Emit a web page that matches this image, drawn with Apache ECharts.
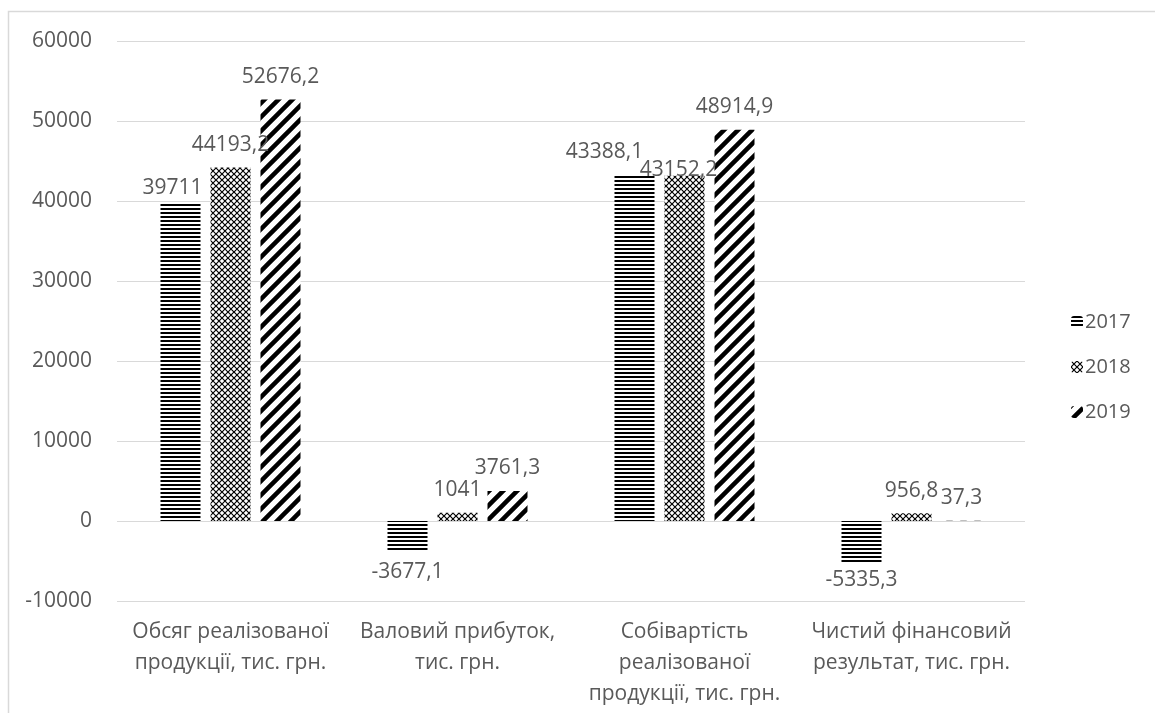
<!DOCTYPE html>
<html>
<head>
<meta charset="utf-8">
<script src="https://cdn.jsdelivr.net/npm/echarts@6/dist/echarts.min.js"></script>
<style>
  html, body { margin: 0; padding: 0; background: #fff; }
  #chart { width: 1155px; height: 713px; }
</style>
</head>
<body>
<div id="chart"></div>
<script>
// Показники діяльності підприємства, тис. грн.
const categories = [
  'Обсяг реалізованої\nпродукції, тис. грн.',
  'Валовий прибуток,\nтис. грн.',
  'Собівартість\nреалізованої\nпродукції, тис. грн.',
  'Чистий фінансовий\nрезультат, тис. грн.'
];
const years = ['2017', '2018', '2019'];
const values2017 = [39711, -3677.1, 43388.1, -5335.3];
const values2018 = [44193.2, 1041, 43152.2, 956.8];
const values2019 = [52676.2, 3761.3, 48914.9, 37.3];
const yTicks = { min: -10000, max: 60000, step: 10000 };

const FONT = '"Open Sans", "Noto Sans", sans-serif';
const GREY = '#595959';

// Black-and-white fill patterns for the bars
function makeTile(w, h, draw) {
  const c = document.createElement('canvas');
  c.width = w; c.height = h;
  const g = c.getContext('2d');
  g.fillStyle = '#fff';
  g.fillRect(0, 0, w, h);
  g.fillStyle = '#000';
  g.strokeStyle = '#000';
  draw(g, w, h);
  return { image: c, repeat: 'repeat' };
}
const hLines = makeTile(4, 4, (g) => { g.fillRect(0, 0, 4, 2); });
const crossHatch = makeTile(6, 6, (g, w, h) => {
  g.lineWidth = 1.2;
  g.beginPath();
  g.moveTo(0, 0); g.lineTo(w, h);
  g.moveTo(w, 0); g.lineTo(0, h);
  g.stroke();
});
const diagonal = makeTile(14, 14, (g, s) => {
  g.lineWidth = 4.5;
  g.lineCap = 'square';
  g.beginPath();
  g.moveTo(0, s); g.lineTo(s, 0);
  g.moveTo(-s / 2, s / 2); g.lineTo(s / 2, -s / 2);
  g.moveTo(s / 2, s * 1.5); g.lineTo(s * 1.5, s / 2);
  g.stroke();
});

// Hand-placed label shifts where neighbouring labels would collide
const labelShift = {
  '2017-0': [-8, 7],
  '2017-2': [-30, 1],
  '2018-2': [-6, 17],
  '2017-3': [0, -5]
};

function fmt(v) { return String(v).replace('.', ','); }

function buildSeries(name, vals, fill) {
  return {
    name: name,
    type: 'bar',
    barWidth: 40,
    barGap: '25%',
    itemStyle: { color: fill },
    data: vals.map((v, i) => {
      const lab = {
        show: true,
        position: v < 0 ? 'bottom' : 'top',
        distance: v < 0 ? 11 : 12,
        formatter: () => fmt(v)
      };
      const sh = labelShift[name + '-' + i];
      if (sh) lab.offset = sh;
      return { value: v, label: lab };
    }),
    label: { color: GREY, fontFamily: FONT, fontSize: 21 }
  };
}

const chart = echarts.init(document.getElementById('chart'), null, { renderer: 'canvas' });
chart.setOption({
  animation: false,
  backgroundColor: '#fff',
  textStyle: { fontFamily: FONT },
  graphic: [{
    type: 'rect',
    shape: { x: 8.5, y: 11.5, width: 1300, height: 900 },
    style: { fill: 'none', stroke: '#d9d9d9', lineWidth: 1.5 },
    silent: true
  }],
  grid: { left: 117, right: 130, top: 41, bottom: 112, containLabel: false },
  legend: {
    orient: 'vertical',
    left: 1066,
    top: 305,
    itemWidth: 12,
    itemHeight: 12,
    itemGap: 21,
    data: years,
    textStyle: { color: GREY, fontFamily: FONT, fontSize: 20, lineHeight: 24, padding: [0, 0, 0, -3] }
  },
  xAxis: {
    type: 'category',
    data: categories,
    position: 'bottom',
    axisLine: { show: false, onZero: false },
    axisTick: { show: false },
    axisLabel: {
      interval: 0,
      margin: 16,
      color: GREY,
      fontFamily: FONT,
      fontSize: 21,
      lineHeight: 31
    }
  },
  yAxis: {
    type: 'value',
    min: yTicks.min,
    max: yTicks.max,
    interval: yTicks.step,
    axisLine: { show: false },
    axisTick: { show: false },
    splitLine: { lineStyle: { color: '#d9d9d9', width: 1 } },
    axisLabel: { margin: 25, color: GREY, fontFamily: FONT, fontSize: 21, formatter: (v) => String(v) }
  },
  series: [
    buildSeries('2017', values2017, hLines),
    buildSeries('2018', values2018, crossHatch),
    buildSeries('2019', values2019, diagonal)
  ]
});
</script>
</body>
</html>
